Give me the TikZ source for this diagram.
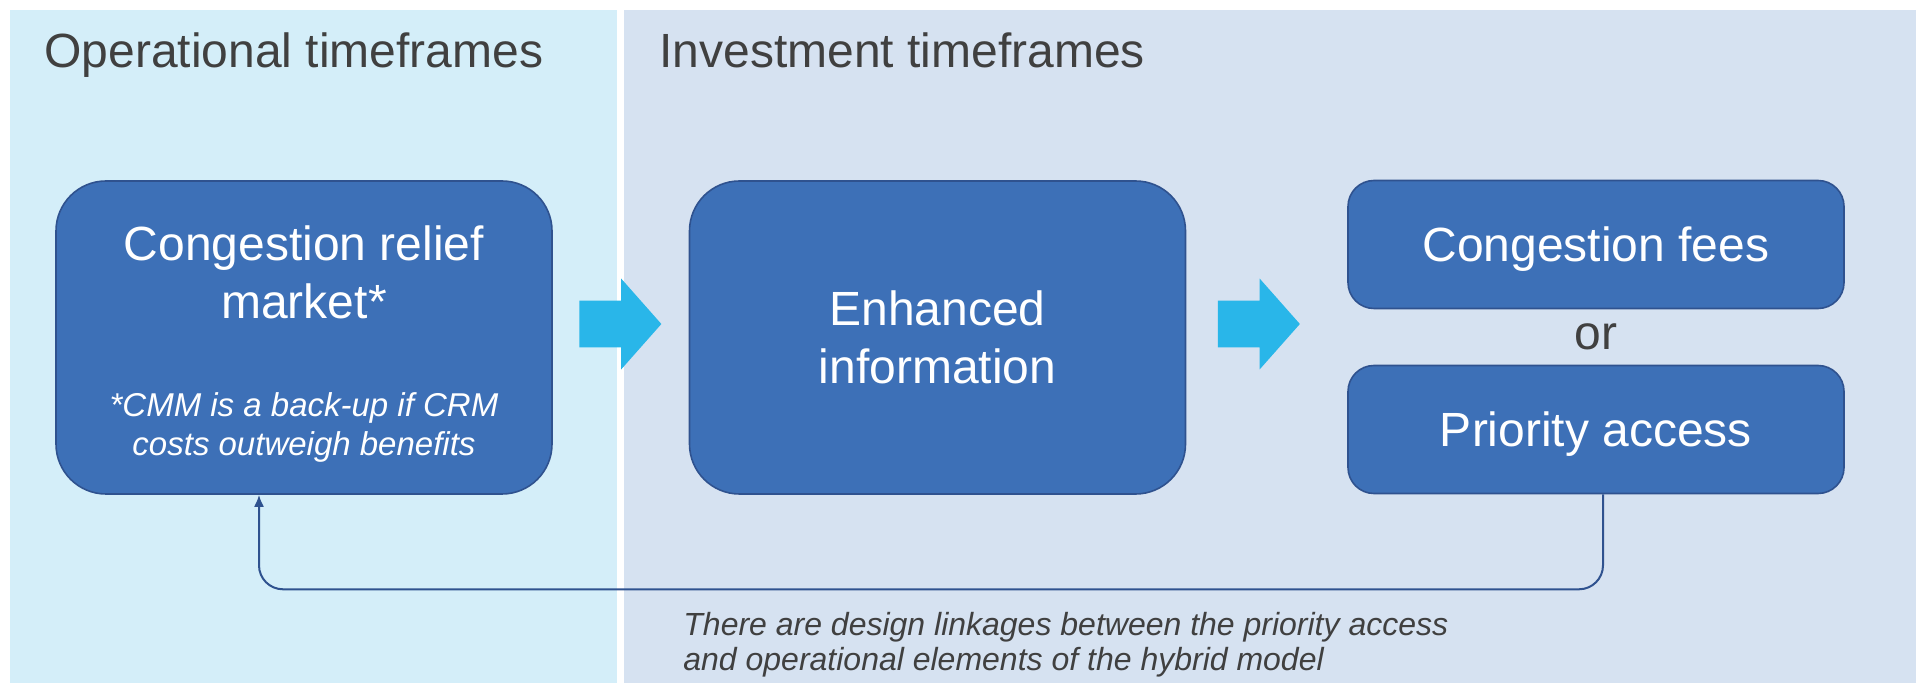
\documentclass[tikz,border=0pt]{standalone}
\usepackage{fontspec}
\setmainfont{Liberation Sans}
\usetikzlibrary{arrows.meta,shapes.arrows}
\definecolor{opbg}{HTML}{D4EEF9}
\definecolor{invbg}{HTML}{D6E2F1}
\definecolor{boxblue}{HTML}{3D70B7}
\definecolor{boxline}{HTML}{2F528F}
\definecolor{flowcyan}{HTML}{29B6E9}
\definecolor{txtgray}{HTML}{404040}

\begin{document}
\begin{tikzpicture}[x=0.5pt,y=-0.5pt,
  heading/.style={anchor=base west,inner sep=0pt,text=txtgray,font=\fontsize{24}{29}\selectfont},
  block/.style={draw=boxline,line width=0.8pt,fill=boxblue,text=white,align=center,
    minimum width=248pt,font=\fontsize{24}{29}\selectfont},
  bigblock/.style={block,rounded corners=25pt,minimum height=156.5pt},
  smallblock/.style={block,rounded corners=13pt,minimum height=64pt,text depth=0pt},
  flow/.style={single arrow,fill=flowcyan,inner xsep=0pt,inner ysep=11.5pt,minimum height=41pt,
    single arrow head extend=11pt,single arrow tip angle=97},
  feedback/.style={draw=boxline,line width=1pt,rounded corners=12pt,-{Latex[length=6pt,width=5pt]}}]
\useasboundingbox (0,0) rectangle (1916,683);

% timeframe panels
\fill[opbg] (10,10) rectangle (617,683);
\fill[invbg] (624,10) rectangle (1916,683);
\node[heading] (ophead) at (44,68) {Operational timeframes};
\node[heading] (invhead) at (659,68) {Investment timeframes};

% mechanism boxes
\node[bigblock] (crm) at (304,337.5) {};
\node[text=white,align=center,font=\fontsize{24}{29}\selectfont] (crmname) at (304,272) {Congestion relief\\market*};
\node[text=white,align=center,font=\fontsize{16.5}{19.5}\selectfont\itshape] (crmnote) at (304,427) {*CMM is a back-up if CRM\\costs outweigh benefits};
\node[bigblock] (info) at (937.5,337.5) {Enhanced\\information};
\node[smallblock] (fees) at (1596,244.5) {Congestion fees};
\node[text=txtgray,font=\fontsize{24}{29}\selectfont] (or) at (1596,337) {or};
\node[smallblock] (prio) at (1596,429.5) {Priority access};

% flow between the timeframes
\node[flow] (flowa) at (610,324) {};
\node[flow] (flowb) at (1248.5,324) {};

% link back to the relief market
\draw[feedback] ([xshift=3.5pt]prio.south) -- ++(0,95) -| ([xshift=-22.5pt]crm.south);
\node[anchor=north west,inner sep=0pt,align=left,text=txtgray,font=\fontsize{16}{17.5}\selectfont\itshape] (linknote) at (683,612)
  {There are design linkages between the priority access\\and operational elements of the hybrid model};
\end{tikzpicture}
\end{document}
